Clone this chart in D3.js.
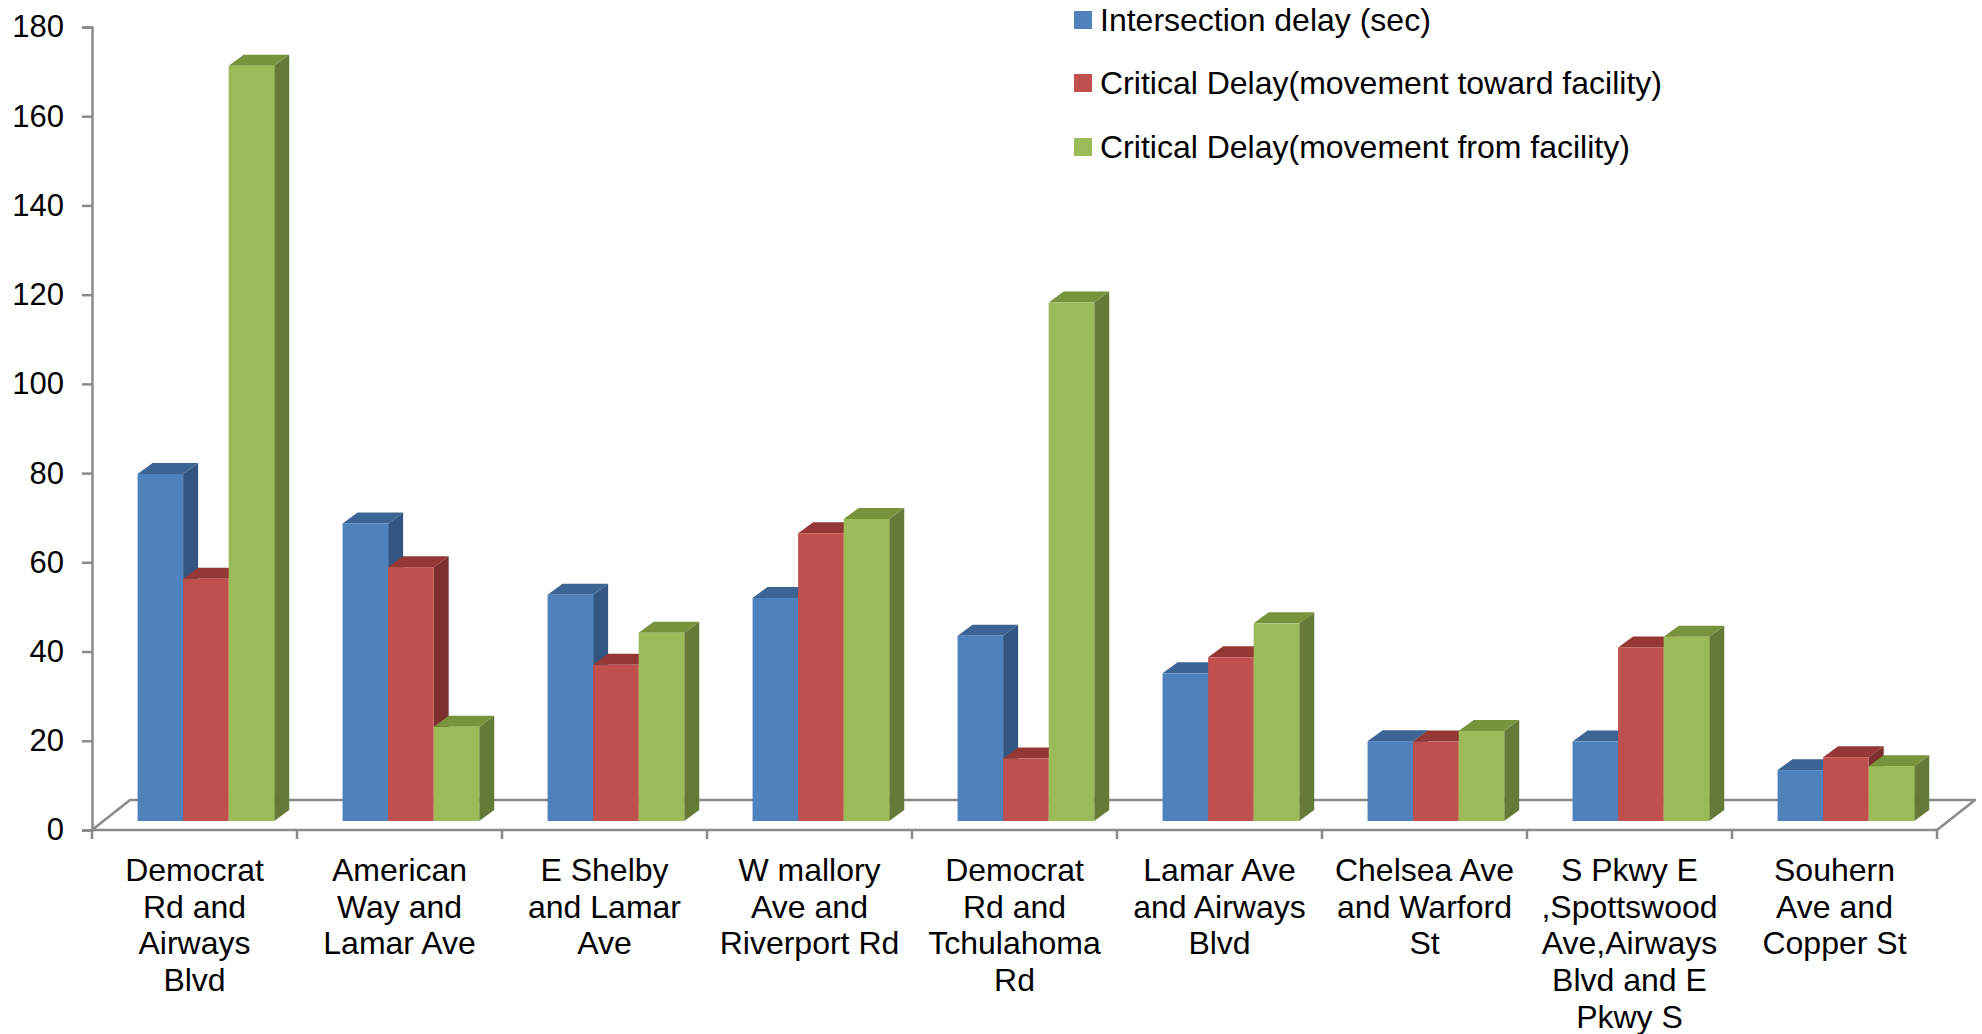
<!DOCTYPE html>
<html>
<head>
<meta charset="utf-8">
<script src="https://cdn.jsdelivr.net/npm/d3@7"></script>
<style>
  body { margin: 0; background: #fff; }
  text { font-family: "Liberation Sans", Arial, sans-serif; fill: #000; }
</style>
</head>
<body>
<script>
// data
const categories = [
  ["Democrat", "Rd and", "Airways", "Blvd"],
  ["American", "Way and", "Lamar Ave"],
  ["E Shelby", "and Lamar", "Ave"],
  ["W mallory", "Ave and", "Riverport Rd"],
  ["Democrat", "Rd and", "Tchulahoma", "Rd"],
  ["Lamar Ave", "and Airways", "Blvd"],
  ["Chelsea Ave", "and Warford", "St"],
  ["S Pkwy E", ",Spottswood", "Ave,Airways", "Blvd and E", "Pkwy S"],
  ["Souhern", "Ave and", "Copper St"]
];
const seriesNames = [
  "Intersection delay (sec)",
  "Critical Delay(movement toward facility)",
  "Critical Delay(movement from facility)"
];
const intersectionDelay = [77.8, 66.7, 50.7, 50.0, 41.5, 33.1, 17.9, 17.8, 11.4];
const delayToward      = [54.3, 56.9, 35.0, 64.5, 14.0, 36.7, 17.8, 38.9, 14.3];
const delayFrom        = [169.3, 21.1, 42.2, 67.7, 116.2, 44.3, 20.2, 41.3, 12.3];
const yTicks = [0, 20, 40, 60, 80, 100, 120, 140, 160, 180];

const seriesValues = [intersectionDelay, delayToward, delayFrom];
// front, top, side colours per series
const faceColors = [
  {front: "#4f81bd", top: "#3c6494", side: "#325681"},
  {front: "#c0504d", top: "#953735", side: "#7d2f2d"},
  {front: "#9bbb59", top: "#77933c", side: "#657a36"}
];

const width = 1982, height = 1034;
const svg = d3.select("body").append("svg")
  .attr("width", width).attr("height", height);

const plot = {left: 92, right: 1937, top: 27, bottom: 830};
const floorDepth = {dx: 38, dy: -30};   // oblique depth of the floor
const barShift = {dx: 11.4, dy: -9};    // bars stand a bit behind the front edge
const barDepth = {dx: 15, dy: -11};     // thickness of each bar

const y = d3.scaleLinear().domain([0, 180]).range([plot.bottom, plot.top]);
const idx = d3.range(categories.length);
const x0 = d3.scaleBand().domain(idx).range([plot.left, plot.right]).padding(0);
const x1 = d3.scaleBand().domain([0, 1, 2]).range([0, x0.bandwidth()])
  .paddingInner(0).paddingOuter(0.75);

const axisColor = "#8a8a8a";

// floor
const fl = plot.left, fr = plot.right, fb = plot.bottom;
svg.append("path")
  .attr("d", `M${fl},${fb} L${fr},${fb} L${fr + floorDepth.dx},${fb + floorDepth.dy} L${fl + floorDepth.dx},${fb + floorDepth.dy} Z`)
  .attr("fill", "#fff").attr("stroke", axisColor).attr("stroke-width", 2.5)
  .attr("stroke-linejoin", "round");

// y axis
const yAxis = d3.axisLeft(y).tickValues(yTicks).tickSize(10).tickPadding(18);
const gy = svg.append("g").attr("transform", `translate(${plot.left},0)`).call(yAxis);
gy.select(".domain").attr("stroke", axisColor).attr("stroke-width", 2.5);
gy.selectAll(".tick line").attr("stroke", axisColor).attr("stroke-width", 2.5);
gy.selectAll(".tick text").style("font-size", "31px")
  .style("font-family", '"Liberation Sans", Arial, sans-serif').attr("fill", "#000");

// x axis ticks at category boundaries
const bounds = idx.map(i => x0(i)).concat([plot.right]);
svg.append("g").selectAll("line").data(bounds).join("line")
  .attr("x1", d => d).attr("x2", d => d)
  .attr("y1", plot.bottom).attr("y2", plot.bottom + 9)
  .attr("stroke", axisColor).attr("stroke-width", 2.5);

// bars
const bars = [];
idx.forEach(i => {
  seriesValues.forEach((vals, s) => {
    bars.push({i, s, v: vals[i]});
  });
});

const gBars = svg.append("g");
bars.forEach(b => {
  const xL = x0(b.i) + x1(b.s) + barShift.dx;
  const xR = xL + x1.bandwidth();
  const yB = y(0) + barShift.dy;
  const yT = y(b.v) + barShift.dy;
  const c = faceColors[b.s];
  const g = gBars.append("g");
  // side face
  g.append("path")
    .attr("d", `M${xR},${yB} L${xR + barDepth.dx},${yB + barDepth.dy} L${xR + barDepth.dx},${yT + barDepth.dy} L${xR},${yT} Z`)
    .attr("fill", c.side);
  // top face
  g.append("path")
    .attr("d", `M${xL},${yT} L${xL + barDepth.dx},${yT + barDepth.dy} L${xR + barDepth.dx},${yT + barDepth.dy} L${xR},${yT} Z`)
    .attr("fill", c.top);
  // front face
  g.append("rect")
    .attr("x", xL).attr("y", yT)
    .attr("width", x1.bandwidth()).attr("height", yB - yT)
    .attr("fill", c.front);
});

// category labels
const lineH = 36.7;
const gx = svg.append("g");
categories.forEach((lines, i) => {
  const t = gx.append("text")
    .attr("x", x0(i) + x0.bandwidth() / 2)
    .attr("y", 881)
    .attr("text-anchor", "middle")
    .style("font-size", "32px");
  lines.forEach((ln, k) => {
    t.append("tspan")
      .attr("x", x0(i) + x0.bandwidth() / 2)
      .attr("dy", k === 0 ? 0 : lineH)
      .text(ln);
  });
});

// legend
const legendRows = [20, 83, 147];
const legend = svg.append("g").selectAll("g").data(seriesNames).join("g")
  .attr("transform", (d, i) => `translate(1074,${legendRows[i]})`);
legend.append("rect")
  .attr("x", 0).attr("y", -9).attr("width", 18).attr("height", 18)
  .attr("fill", (d, i) => faceColors[i].front);
legend.append("text")
  .attr("x", 26).attr("y", 0).attr("dy", "0.35em")
  .style("font-size", "32px")
  .text(d => d);
</script>
</body>
</html>
